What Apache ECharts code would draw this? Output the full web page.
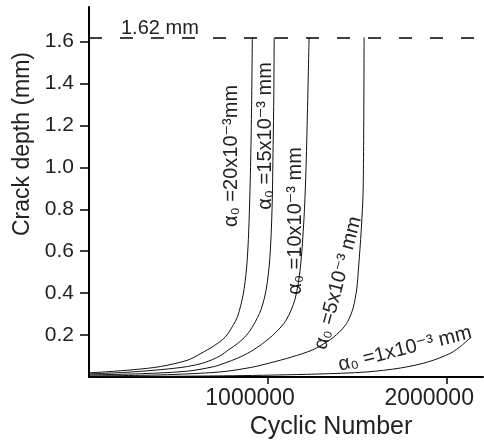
<!DOCTYPE html>
<html>
<head>
<meta charset="utf-8">
<script src="https://cdn.jsdelivr.net/npm/echarts@6/dist/echarts.min.js"></script>
<style>
  html, body { margin: 0; padding: 0; background: #fff; }
  #chart { width: 484px; height: 445px; }
</style>
</head>
<body>
<div id="chart"></div>
<script>
// ---- data ----
const cycles20 = [0, 100000, 250000, 400000, 550000, 620000, 700000, 760000, 800000, 830000, 860000, 880000, 892000, 902000, 908000, 912000];
const depth20  = [0.02, 0.025, 0.035, 0.05, 0.08, 0.11, 0.15, 0.19, 0.24, 0.29, 0.39, 0.52, 0.7, 1.0, 1.3, 1.62];

const cycles15 = [0, 200000, 400000, 550000, 650000, 730000, 780000, 830000, 880000, 920000, 960000, 990000, 1010000, 1022000, 1028000, 1032000, 1034000];
const depth15  = [0.015, 0.022, 0.035, 0.05, 0.07, 0.1, 0.13, 0.16, 0.2, 0.25, 0.32, 0.42, 0.57, 0.8, 1.1, 1.35, 1.62];

const cycles10 = [0, 300000, 550000, 700000, 760000, 830000, 900000, 970000, 1040000, 1100000, 1150000, 1180000, 1200000, 1210000, 1218000, 1229000];
const depth10  = [0.01, 0.016, 0.028, 0.05, 0.067, 0.09, 0.12, 0.16, 0.21, 0.27, 0.37, 0.52, 0.75, 0.95, 1.2, 1.62];

const cycles5 = [0, 400000, 730000, 900000, 1010000, 1130000, 1250000, 1350000, 1410000, 1445000, 1475000, 1495000, 1505000, 1520000, 1531000, 1536000];
const depth5  = [0.005, 0.01, 0.024, 0.045, 0.067, 0.095, 0.13, 0.18, 0.225, 0.265, 0.33, 0.42, 0.52, 0.7, 0.9, 1.62];

const cycles1 = [0, 800000, 1270000, 1550000, 1740000, 1890000, 2020000, 2080000, 2128000];
const depth1  = [0.001, 0.006, 0.014, 0.024, 0.043, 0.071, 0.114, 0.15, 0.186];

const criticalDepth = 1.62;
const criticalLabel = '1.62 mm';
const curveLabels = [
  'α₀ =20x10⁻³mm',
  'α₀ =15x10⁻³ mm',
  'α₀ =10x10⁻³ mm',
  'α₀ =5x10⁻³ mm',
  'α₀ =1x10⁻³ mm'
];
const xTicks = [1000000, 2000000];
const yTicks = [0.2, 0.4, 0.6, 0.8, 1.0, 1.2, 1.4, 1.6];
const xTitle = 'Cyclic Number';
const yTitle = 'Crack depth (mm)';

// ---- chart ----
const zip = (xs, ys) => xs.map((x, i) => [x, ys[i]]);
const FONT = '"Liberation Sans", Arial, "DejaVu Sans", sans-serif';
const TXT = '#222';

function curve(xs, ys, extra) {
  return Object.assign({
    type: 'line',
    data: zip(xs, ys),
    symbol: 'none',
    smooth: 0.3,
    lineStyle: { color: '#111', width: 1 },
    silent: true,
    animation: false
  }, extra || {});
}

function label(text, x, y, deg, size) {
  return {
    type: 'text', x: x, y: y, rotation: deg * Math.PI / 180, silent: true,
    style: { text: text, fontSize: size, fontFamily: FONT, fill: TXT,
      textAlign: 'center', textVerticalAlign: 'middle', align: 'center', verticalAlign: 'middle' }
  };
}

const chart = echarts.init(document.getElementById('chart'), null, { renderer: 'canvas' });
chart.setOption({
  animation: false,
  backgroundColor: '#fff',
  grid: { left: 89, right: 1, top: 7, bottom: 68 },
  xAxis: {
    type: 'value',
    min: 0, max: 2200000, interval: 1000000,
    name: xTitle,
    nameLocation: 'middle',
    nameGap: 33,
    nameTextStyle: { fontSize: 25, color: TXT, fontFamily: FONT, padding: [0, 0, 0, 90] },
    axisLine: { onZero: false, lineStyle: { color: '#000', width: 2 } },
    axisTick: { show: true, inside: false, length: 7, customValues: xTicks, lineStyle: { color: '#000', width: 1.5 } },
    axisLabel: {
      fontSize: 23, color: TXT, fontFamily: FONT, margin: 10,
      padding: [0, 36, 0, 0],
      customValues: xTicks,
      formatter: v => String(v)
    },
    splitLine: { show: false }
  },
  yAxis: {
    type: 'value',
    min: 0, max: 1.765, interval: 0.2,
    name: yTitle,
    nameLocation: 'middle',
    nameGap: 48,
    nameRotate: 90,
    nameTextStyle: { fontSize: 23, color: TXT, fontFamily: FONT, padding: [0, 0, 0, 96] },
    axisLine: { lineStyle: { color: '#000', width: 2 } },
    axisTick: { show: true, inside: false, length: 9, customValues: yTicks, lineStyle: { color: '#000', width: 1.5 } },
    axisLabel: {
      fontSize: 21, color: TXT, fontFamily: FONT, margin: 15,
      customValues: yTicks,
      formatter: v => v.toFixed(1)
    },
    splitLine: { show: false }
  },
  series: [
    curve(cycles20, depth20, {
      markLine: {
        silent: true,
        symbol: 'none',
        label: { show: false },
        lineStyle: { color: '#000', width: 1.5, type: [13, 18] },
        data: [{ yAxis: criticalDepth }]
      }
    }),
    curve(cycles15, depth15),
    curve(cycles10, depth10),
    curve(cycles5, depth5),
    curve(cycles1, depth1)
  ],
  graphic: [
    { type: 'text', x: 121, y: 38, silent: true,
      style: { text: criticalLabel, fontSize: 20, fontFamily: FONT, fill: TXT, textAlign: 'left', textVerticalAlign: 'bottom', align: 'left', verticalAlign: 'bottom' } },
    label(curveLabels[0], 231, 156, 90, 20),
    label(curveLabels[1], 265, 136, 90, 20),
    label(curveLabels[2], 295, 221, 90, 20),
    label(curveLabels[3], 338, 283, 75, 20),
    label(curveLabels[4], 405, 349, 14, 20)
  ]
});
</script>
</body>
</html>
